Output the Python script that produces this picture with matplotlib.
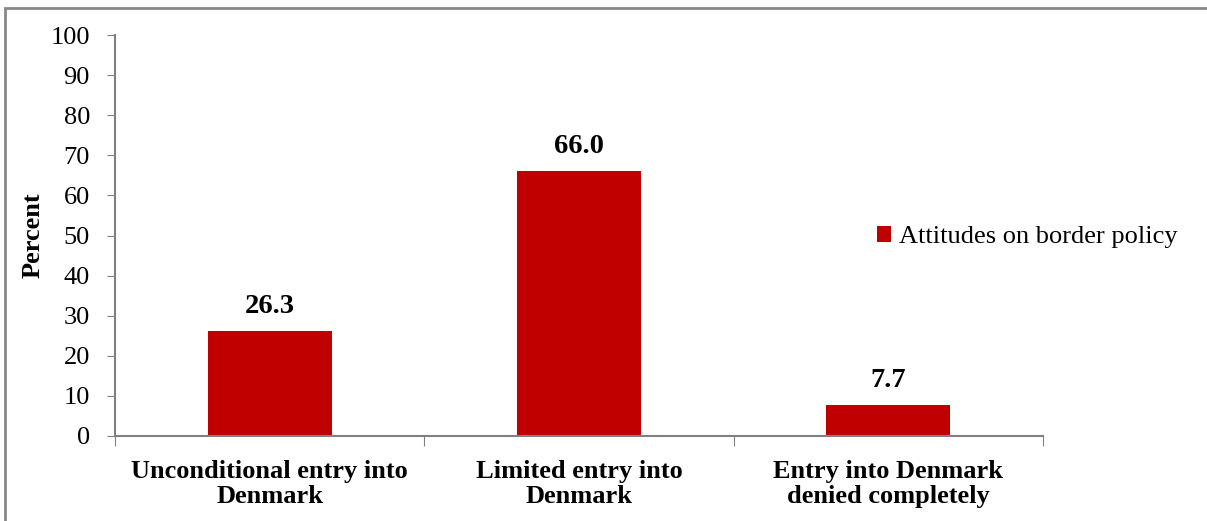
import matplotlib.pyplot as plt
from matplotlib.patches import Rectangle

categories = ['Unconditional entry into\nDenmark', 'Limited entry into\nDenmark',
              'Entry into Denmark\ndenied completely']
values = [26.3, 66.0, 7.7]
series_name = 'Attitudes on border policy'

plt.rcParams['font.family'] = ['Liberation Serif', 'DejaVu Serif']

fig = plt.figure(figsize=(12.07, 5.21), dpi=100)
ax = fig.add_axes([115 / 1207, 1 - 436 / 521, (1043 - 115) / 1207, (436 - 35) / 521])

x = range(len(categories))
bars = ax.bar(x, values, width=0.4, color='#C00000', label=series_name)

# werte über den balken
for xi, v in zip(x, values):
    ax.text(xi, v + 3.0, f'{v:.1f}', ha='center', va='bottom',
            fontsize=20.5, fontweight='bold')

ax.set_xlim(-0.5, 2.5)
ax.set_ylim(0, 100)
ax.set_yticks(range(0, 101, 10))
ax.tick_params(axis='y', labelsize=19, direction='out', length=6, color='#808080', pad=12)

# kategorie-grenzen als ticks
ax.set_xticks([-0.5, 0.5, 1.5, 2.5], minor=False)
ax.set_xticklabels([])
ax.set_xticks(list(x), minor=True)
ax.set_xticklabels(categories, minor=True, fontsize=19, fontweight='bold',
                   linespacing=1.15)
ax.tick_params(axis='x', which='major', direction='out', length=7, color='#808080')
ax.tick_params(axis='x', which='minor', length=0, pad=17)

for s in ['top', 'right']:
    ax.spines[s].set_visible(False)
for s in ['left', 'bottom']:
    ax.spines[s].set_color('#808080')
    ax.spines[s].set_linewidth(1.5)

ax.set_ylabel('Percent', fontsize=19, fontweight='bold', labelpad=4)

fig.legend(loc='center left', bbox_to_anchor=(853 / 1207, 1 - 237 / 521),
           frameon=False, fontsize=19, handlelength=0.55, handleheight=0.55,
           handletextpad=0.3)

# rahmen um das ganze diagramm
fig.patches.append(Rectangle((5 / 1207, -0.1), 1.2, 1 - 8 / 521 + 0.1,
                             transform=fig.transFigure, fill=False,
                             edgecolor='#888888', linewidth=2))

fig.savefig('out.png', dpi=100)
